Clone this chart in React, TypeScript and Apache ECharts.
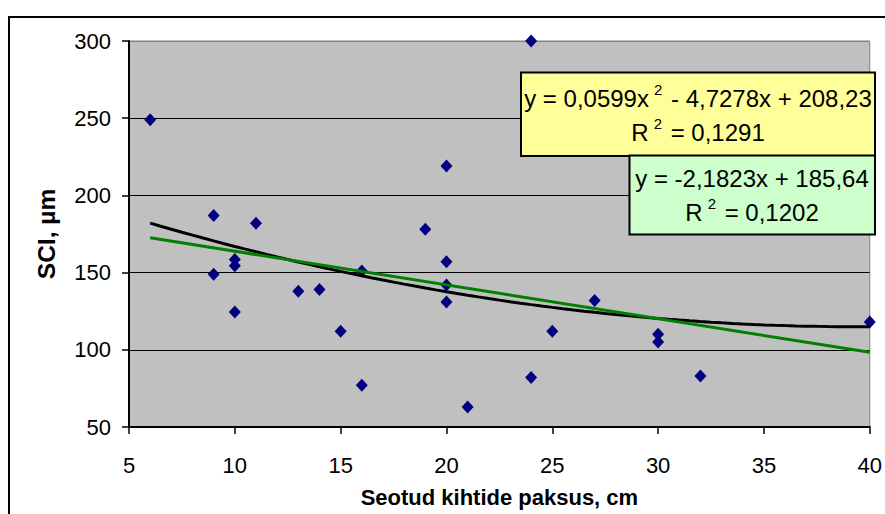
import React, { useEffect, useRef } from "react";
import * as echarts from "echarts";

// Measured layer thickness (cm) and SCI (µm)
const thickness = [6, 9, 9, 10, 10, 10, 11, 13, 14, 15, 16, 16, 19, 20, 20, 20, 20, 21, 24, 24, 25, 27, 30, 30, 32, 40];
const sci = [249, 187, 149, 158.5, 154.5, 124.5, 182, 138, 139, 112, 151, 77, 178, 219, 157, 142, 131, 63, 300, 82, 112, 132, 110, 105, 83, 118];

// Trendline coefficients as stated in the equation boxes
const polyCoef = [0.0599, -4.7278, 208.23]; // a·x² + b·x + c
const polyR2 = 0.1291;
const linCoef = [-2.1823, 185.64]; // m·x + k
const linR2 = 0.1202;
const trendRange = [6, 40];

// Axis ranges
const xRange = [5, 40, 5];
const yRange = [50, 300, 50];

const FONT = 'Arial, "Liberation Sans", sans-serif';

const fmt = (v: number) => String(v).replace(".", ",");

function polyPoints(): number[][] {
  const pts: number[][] = [];
  for (let x = trendRange[0]; x <= trendRange[1] + 1e-9; x += 0.5) {
    pts.push([x, polyCoef[0] * x * x + polyCoef[1] * x + polyCoef[2]]);
  }
  return pts;
}

function linPoints(): number[][] {
  return trendRange.map((x) => [x, linCoef[0] * x + linCoef[1]]);
}

const richStyle = {
  n: { fontSize: 24, fontFamily: FONT, lineHeight: 32, fill: "#000" },
  s: { fontSize: 15, fontFamily: FONT, lineHeight: 11, verticalAlign: "top", padding: [0, 2, 0, 5], fill: "#000" },
};

function App() {
  const ref = useRef<HTMLDivElement>(null);

  useEffect(() => {
    document.body.style.margin = "0";
    const chart = echarts.init(ref.current!, null, { renderer: "svg" });

    const polyEq = `{n|y = ${fmt(polyCoef[0])}x}{s|2}{n| - ${fmt(-polyCoef[1])}x + ${fmt(polyCoef[2])}}`;
    const polyR = `{n|R}{s|2}{n| = ${fmt(polyR2)}}`;
    const linEq = `{n|y = ${fmt(linCoef[0])}x + ${fmt(linCoef[1])}}`;
    const linR = `{n|R}{s|2}{n| = ${fmt(linR2)}}`;

    const option: any = {
      animation: false,
      backgroundColor: "#fff",
      grid: {
        left: 129,
        top: 41,
        right: 11,
        bottom: 87,
        show: true,
        backgroundColor: "#C0C0C0",
        borderColor: "#808080",
        borderWidth: 1,
      },
      xAxis: {
        type: "value",
        min: xRange[0],
        max: xRange[1],
        interval: xRange[2],
        name: "Seotud kihtide paksus, cm",
        nameLocation: "middle",
        nameGap: 59,
        nameTextStyle: { fontSize: 22, fontWeight: "bold", fontFamily: FONT, color: "#000" },
        axisLine: { show: true, onZero: false, lineStyle: { color: "#000", width: 2 } },
        axisTick: { show: true, inside: false, length: 7, lineStyle: { color: "#000", width: 1.5 } },
        axisLabel: { fontSize: 22, fontFamily: FONT, color: "#000", margin: 27 },
        splitLine: { show: false },
      },
      yAxis: {
        type: "value",
        min: yRange[0],
        max: yRange[1],
        interval: yRange[2],
        name: "SCI, µm",
        nameLocation: "middle",
        nameRotate: 90,
        nameGap: 70,
        nameTextStyle: { fontSize: 24.5, fontWeight: "bold", fontFamily: FONT, color: "#000" },
        axisLine: { show: true, onZero: false, lineStyle: { color: "#000", width: 2 } },
        axisTick: { show: true, inside: false, length: 7, lineStyle: { color: "#000", width: 1.5 } },
        axisLabel: { fontSize: 22, fontFamily: FONT, color: "#000", margin: 18 },
        splitLine: {
          show: true,
          lineStyle: { color: ["#000", "#000", "#000", "#000", "#000", "#808080"], width: 1.2 },
        },
      },
      series: [
        {
          type: "scatter",
          data: thickness.map((x, i) => [x, sci[i]]),
          symbol: "diamond",
          symbolSize: [12, 13],
          itemStyle: { color: "#000080", opacity: 1 },
          clip: false,
          z: 2,
        },
        {
          type: "line",
          data: polyPoints(),
          showSymbol: false,
          smooth: false,
          lineStyle: { color: "#000", width: 3 },
          z: 3,
        },
        {
          type: "line",
          data: linPoints(),
          showSymbol: false,
          lineStyle: { color: "#008000", width: 3 },
          z: 4,
        },
      ],
      graphic: [
        {
          type: "rect",
          silent: true,
          z: 100,
          shape: { x: 9, y: 17, width: 900, height: 600 },
          style: { fill: "none", stroke: "#000", lineWidth: 2 },
        },
        {
          type: "rect",
          z: 100,
          shape: { x: 521, y: 72.5, width: 354, height: 83.5 },
          style: { fill: "#FFFF99", stroke: "#000", lineWidth: 2 },
        },
        {
          type: "text",
          z: 101,
          x: 698,
          y: 98,
          style: { text: polyEq, rich: richStyle, align: "center", verticalAlign: "middle" },
        },
        {
          type: "text",
          z: 101,
          x: 698,
          y: 132,
          style: { text: polyR, rich: richStyle, align: "center", verticalAlign: "middle" },
        },
        {
          type: "rect",
          z: 102,
          shape: { x: 629.5, y: 155.5, width: 245.5, height: 79 },
          style: { fill: "#CCFFCC", stroke: "#000", lineWidth: 2 },
        },
        {
          type: "text",
          z: 103,
          x: 752,
          y: 178,
          style: { text: linEq, rich: richStyle, align: "center", verticalAlign: "middle" },
        },
        {
          type: "text",
          z: 103,
          x: 752,
          y: 212,
          style: { text: linR, rich: richStyle, align: "center", verticalAlign: "middle" },
        },
      ],
    };

    chart.setOption(option);
    return () => chart.dispose();
  }, []);

  return <div ref={ref} style={{ width: 885, height: 514 }} />;
}

export default App;
